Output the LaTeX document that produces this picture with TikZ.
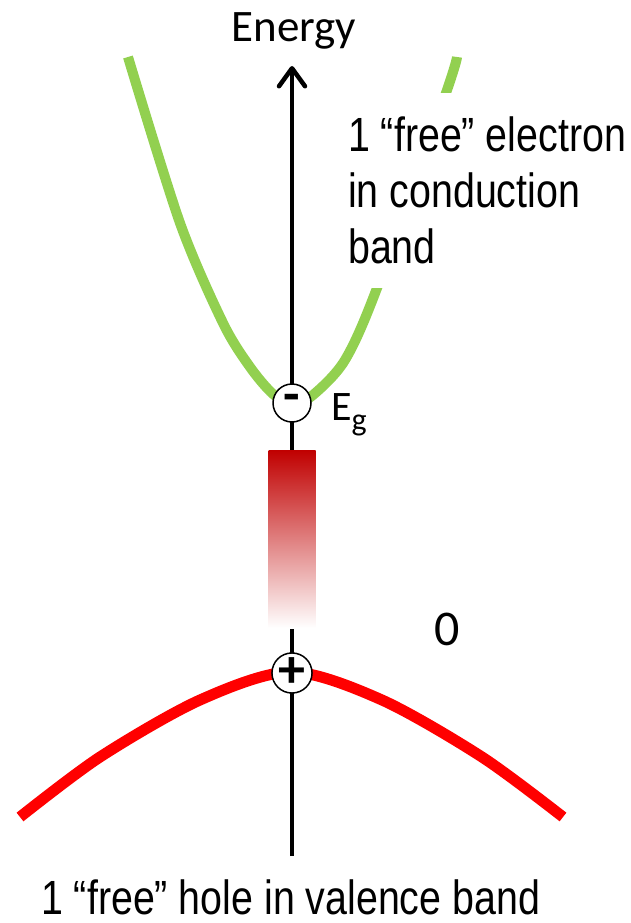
\documentclass[tikz,border=0pt]{standalone}
\usepackage{fontspec}
\setmainfont{Carlito}
\newfontfamily\arialn[FakeStretch=0.82]{Liberation Sans}
\usepackage{xcolor}
\usepackage{tikz}
\usetikzlibrary{calc,positioning,arrows.meta}
\definecolor{bandgreen}{RGB}{146,208,80}
\definecolor{bandred}{RGB}{255,0,0}
\definecolor{gapred}{RGB}{192,0,0}
\tikzset{
 cband/.style={draw=bandgreen, line width=10pt},
 vband/.style={draw=bandred, line width=11pt},
 axisline/.style={draw=black, line width=4.5pt,
        -{Straight Barb[length=18pt, width=26pt, round]}},
 carrier/.style={circle, draw=black, line width=1.5pt, fill=white,
        minimum size=38pt, inner sep=0pt,
        font=\fontsize{54}{54}\selectfont\bfseries},
 gapbar/.style={rectangle, draw=none, top color=gapred, bottom color=white,
        minimum width=47pt, minimum height=178pt, inner sep=0pt},
 lbl/.style={inner sep=0pt, font=\fontsize{48}{56}\selectfont\arialn},
}
\begin{document}
\begin{tikzpicture}[x=1pt, y=-1pt]
\useasboundingbox (0,0) rectangle (630,923);
% conduction band (green), valence band (red)
\draw[cband] plot[smooth] coordinates {(128,57) (180,223) (223,323)
 (250,367) (273,394) (293,404) (313,395) (345,360) (377,288) (446,93) (457,57)};
\draw[vband] plot[smooth] coordinates {(20,817) (100,757) (200,700)
 (291,672) (382,700) (482,757) (563,817)};
% energy axis
\coordinate (axbot) at (292,856);
\coordinate (axtop) at (292,66);
\draw[axisline] (axbot) -- (axtop);
\node[anchor=base, inner sep=0pt, font=\fontsize{45}{45}\selectfont]
 (energy) at (294,42) {Energy};
% band gap bar, fades out towards the valence band
\node[gapbar] (gap) at (292,539) {};
% the two free carriers
\node[carrier] (elec) at (292,403) {-};
\node[carrier] (hole) at (292,673) {+};
\node[anchor=base west, inner sep=0pt, font=\fontsize{42}{42}\selectfont]
 (eg) at (331,420) {E\raisebox{-10pt}{\fontsize{32}{32}\selectfont g}};
\node[anchor=base, inner sep=0pt, font=\fontsize{50}{50}\selectfont]
 (zero) at (447,645) {0};
% labels (white box hides part of the green band)
\node[lbl, anchor=north west, fill=white, inner xsep=4pt, inner ysep=24pt,
 align=left] (elabel) at (344,93) {1 “free” electron\\in conduction\\band};
\node[lbl, anchor=base west] (hlabel) at (41,914) {1 “free” hole in valence band};
\end{tikzpicture}
\end{document}
